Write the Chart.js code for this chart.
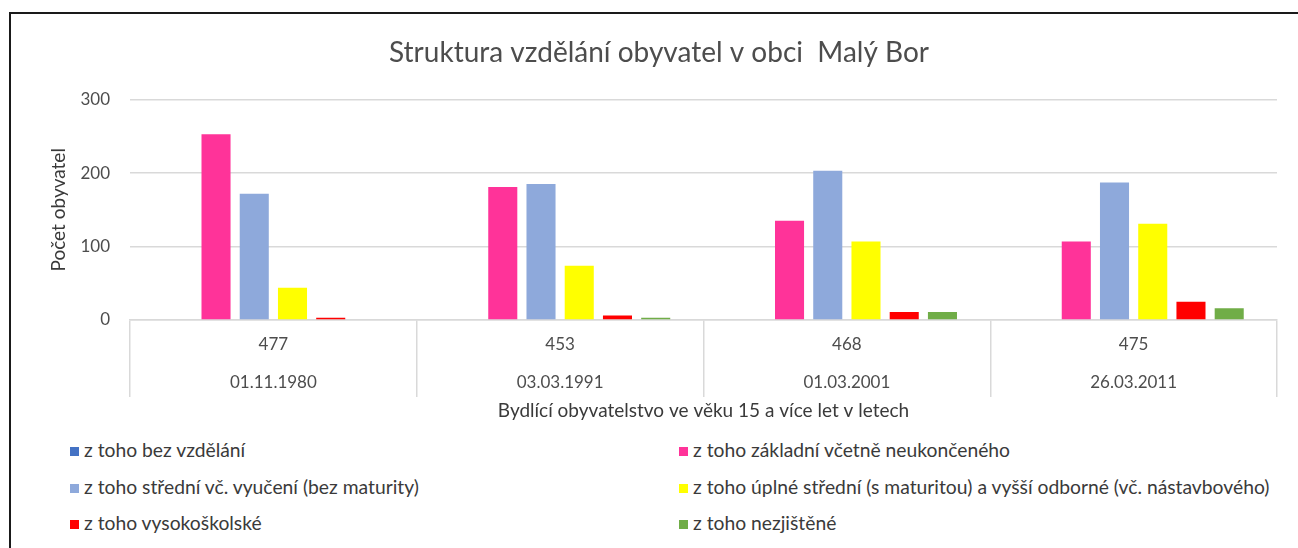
<!DOCTYPE html>
<html>
<head>
<meta charset="utf-8">
<script src="https://cdn.jsdelivr.net/npm/chart.js@4.4.0/dist/chart.umd.min.js"></script>
<style>
  body { margin: 0; background: #fff; width: 1298px; height: 548px; overflow: hidden; font-family: Lato, sans-serif; }
  #frame { position: absolute; left: 9px; top: 12px; width: 1400px; height: 600px; border-top: 2px solid #1a1a1a; border-left: 2px solid #1a1a1a; }
  #wrap { position: absolute; left: 11px; top: 14px; width: 1296px; height: 411px; }
  #legend { position: absolute; left: 70px; top: 432px; width: 1220px; display: grid; grid-template-columns: 609px 600px; }
  .item { height: 36.5px; line-height: 36.5px; font-size: 19.3px; color: #3a3a3a; white-space: nowrap; }
  .item span.box { display: inline-block; width: 9px; height: 9px; margin-right: 5px; vertical-align: 1px; }
</style>
</head>
<body>
<div id="frame"></div>
<div id="wrap"><canvas id="chart" width="1296" height="411"></canvas></div>
<div id="legend"></div>
<script>
const totals = ["477", "453", "468", "475"];
const dates = ["01.11.1980", "03.03.1991", "01.03.2001", "26.03.2011"];

const bezVzdelani = [0, 0, 0, 0];
const zakladni = [253, 181, 135, 107];
const stredniVyuceni = [172, 185, 203, 187];
const uplneStredni = [44, 74, 107, 131];
const vysokoskolske = [3, 6, 11, 25];
const nezjistene = [0, 3, 11, 16];

const seriesNames = [
  "z toho bez vzdělání",
  "z toho základní včetně neukončeného",
  "z toho střední vč. vyučení (bez maturity)",
  "z toho úplné střední (s maturitou) a vyšší odborné (vč. nástavbového)",
  "z toho vysokoškolské",
  "z toho nezjištěné"
];
const seriesColors = ["#4472C4", "#FF3399", "#8EA9DB", "#FFFF00", "#FF0000", "#70AD47"];
const seriesValues = [bezVzdelani, zakladni, stredniVyuceni, uplneStredni, vysokoskolske, nezjistene];

const labels = totals.map((t, i) => [t, dates[i]]);
const datasets = seriesNames.map((name, i) => ({
  label: name,
  data: seriesValues[i],
  backgroundColor: seriesColors[i],
  borderWidth: 0,
  categoryPercentage: 0.8,
  barPercentage: 0.76
}));

const gridColor = "#d9d9d9";

new Chart(document.getElementById("chart"), {
  type: "bar",
  data: { labels, datasets },
  options: {
    responsive: false,
    animation: false,
    layout: { padding: 0 },
    plugins: {
      legend: { display: false },
      tooltip: { enabled: false },
      title: {
        display: true,
        text: "Struktura vzdělání obyvatel v obci  Malý Bor",
        color: "#4d4d4d",
        font: { family: "Lato", size: 28, weight: "normal" },
        padding: { top: 22, bottom: 30 }
      }
    },
    scales: {
      x: {
        grid: { display: true, offset: true, drawOnChartArea: false, tickLength: 77, color: gridColor, lineWidth: 1.5 },
        border: { color: gridColor, width: 1.5 },
        ticks: {
          color: "#4d4d4d",
          font: { family: "Lato", size: 17, lineHeight: 38 / 17 },
          padding: -71,
          maxRotation: 0,
          autoSkip: false
        },
        title: {
          display: true,
          text: "Bydlící obyvatelstvo ve věku 15 a více let v letech",
          color: "#3a3a3a",
          font: { family: "Lato", size: 19, weight: "normal" },
          padding: { top: 0, bottom: 3 }
        },
        // záporný padding se ve fit() počítá dvakrát, výšku osy proto nastavím ručně
        afterFit(scale) { scale.height = 105; }
      },
      y: {
        min: 0,
        max: 300,
        ticks: { stepSize: 100, color: "#4d4d4d", font: { family: "Lato", size: 17 }, padding: 20 },
        grid: { color: gridColor, lineWidth: 1.5, drawTicks: false },
        border: { display: false },
        title: {
          display: true,
          text: "Počet obyvatel",
          color: "#3a3a3a",
          font: { family: "Lato", size: 19, weight: "normal" },
          padding: { top: 36, bottom: 0 }
        },
        afterFit(scale) { scale.width = 119; }
      },
      // prázdná osa vpravo jen kvůli okraji, aby titulek zůstal na středu celého grafu
      yRight: {
        type: "linear",
        position: "right",
        display: true,
        ticks: { display: false },
        grid: { display: false },
        border: { display: false },
        afterFit(scale) { scale.width = 30; }
      }
    }
  }
});

// legenda ve dvou sloupcích jako v Excelu
const legend = document.getElementById("legend");
seriesNames.forEach((name, i) => {
  const item = document.createElement("div");
  item.className = "item";
  item.innerHTML = `<span class="box" style="background:${seriesColors[i]}"></span>${name}`;
  legend.appendChild(item);
});
</script>
</body>
</html>
